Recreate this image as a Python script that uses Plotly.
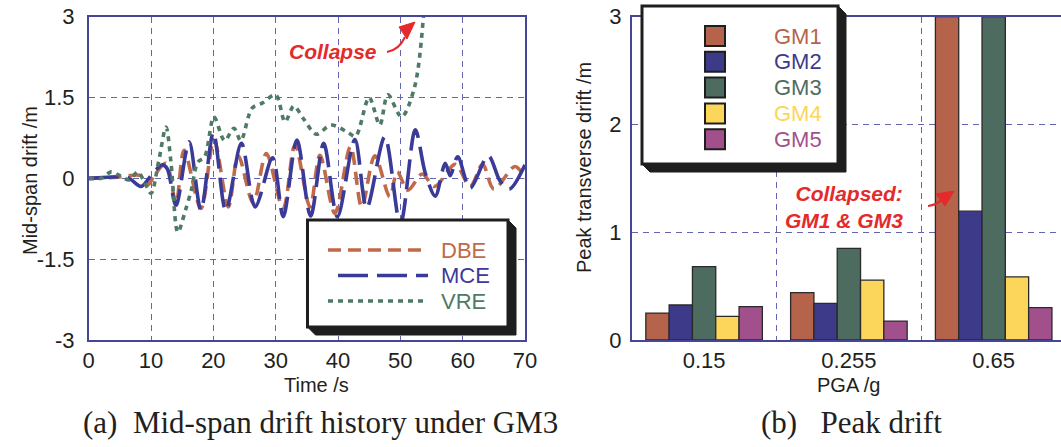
import plotly.graph_objects as go

W, H = 1061, 447

# ---- (a) mid-span drift history under GM3 (time in s, drift in m) ----
dbe_t = [0, 4.5, 8.4, 9.5, 10.5, 12.4, 14.0, 15.3, 18.0, 20.1, 22.4, 24.0, 26.4, 28.5,
         31.2, 33.1, 35.5, 37.1, 39.5, 42.0, 43.8, 45.9, 48.3, 49.5, 51.2, 53.5, 55.5,
         58.8, 61.2, 63.2, 65.0, 68.4, 70.0]
dbe_v = [0, 0.02, 0.05, -0.12, 0.05, 0.28, -0.46, 0.52, -0.56, 0.71, -0.53, 0.42, -0.46, 0.46,
         -0.56, 0.62, -0.53, 0.43, -0.65, 0.59, -0.53, 0.42, -0.34, 0.12, -0.22, 0.08, -0.15,
         0.26, -0.15, 0.26, -0.2, 0.22, 0.0]

mce_t = [0, 3, 5, 6.5, 8.4, 10, 11.8, 12.6, 14.0, 16.1, 18.0, 20.0, 22.0, 24.5, 26.7,
         29.5, 31.2, 33.4, 35.6, 37.7, 39.9, 42.7, 44.6, 47.5, 50.0, 52.4, 54.0, 55.6,
         57.2, 58.0, 59.2, 61.2, 64.1, 66.0, 67.5, 70.0]
mce_v = [0, 0.02, 0.03, 0.0, -0.15, 0.05, 0.25, 0.18, -0.5, 0.68, -0.59, 0.85, -0.6, 0.65, -0.53,
         0.38, -0.71, 0.71, -0.7, 0.65, -0.71, 0.72, -0.55, 0.77, -0.85, 0.9, 0.1, -0.33,
         0.28, 0.05, 0.4, -0.18, 0.42, -0.05, -0.2, 0.25]

vre_t = [0, 2, 3.6, 5, 6.5, 7.9, 8.9, 10, 11.2, 12.4, 13.2, 14.3, 15.5, 16.5, 17.5, 18.6,
         20.1, 21.8, 23.3, 24.4, 26.2, 27.9, 30.0, 31.5, 32.9, 34.5, 36.5, 38.9, 41.5,
         42.8, 45.0, 46.7, 48.0, 50.2, 52.3, 53.7]
vre_v = [0, 0.0, 0.12, 0.05, -0.03, 0.12, -0.06, -0.28, 0.3, 0.95, 0.3, -1.0, -0.6, -0.2, 0.3, 0.4,
         1.14, 0.7, 0.93, 0.7, 1.3, 1.4, 1.55, 1.05, 1.34, 1.1, 0.82, 0.99, 0.86,
         0.78, 1.5, 0.99, 1.55, 1.14, 1.7, 3.0]

time_ticks = [0, 10, 20, 30, 40, 50, 60, 70]
drift_ticks = [-3, -1.5, 0, 1.5, 3]
drift_labels = ["-3", "-1.5", "0", "1.5", "3"]

# ---- (b) peak transverse drift per ground motion ----
pga_labels = ["0.15", "0.255", "0.65"]
gm_names = ["GM1", "GM2", "GM3", "GM4", "GM5"]
gm1 = [0.25, 0.44, 3.0]
gm2 = [0.325, 0.34, 1.195]
gm3 = [0.68, 0.85, 3.0]
gm4 = [0.22, 0.555, 0.585]
gm5 = [0.31, 0.175, 0.30]
peak_ticks = [0, 1, 2, 3]

# ---- styling ----
FONT = "Liberation Sans, Arial, sans-serif"
SERIF = "Liberation Serif, Times New Roman, serif"
INK = "#231F20"
FRAME = "#45459A"
GRID = "#6464B0"
RED = "#E42A2A"
series_style = {
    "DBE": dict(color="#C06A4A", dash="13px,7px"),
    "MCE": dict(color="#3A3A98", dash="30px,9px"),
    "VRE": dict(color="#4E7A66", dash="5px,5px"),
}
gm_colors = ["#B5634B", "#3D3A8A", "#4E6B5F", "#FCD65A", "#A2508C"]


def fx(x):
    return x / W


def fy(y):
    return 1 - y / H


fig = go.Figure()

for name, t, v in (("DBE", dbe_t, dbe_v), ("MCE", mce_t, mce_v), ("VRE", vre_t, vre_v)):
    st = series_style[name]
    fig.add_trace(go.Scatter(
        x=t, y=v, mode="lines", name=name, xaxis="x", yaxis="y",
        line=dict(color=st["color"], width=3.6, dash=st["dash"], shape="spline", smoothing=0.9),
        showlegend=False,
    ))

pga_pos = list(range(len(pga_labels)))
for name, vals, col in zip(gm_names, (gm1, gm2, gm3, gm4, gm5), gm_colors):
    fig.add_trace(go.Bar(
        x=pga_pos, y=vals, name=name, xaxis="x2", yaxis="y2",
        marker=dict(color=col, line=dict(color="#2A2A2A", width=1.3)),
        showlegend=False,
    ))

ydom = [fy(340), fy(16.7)]
axis_common = dict(
    showline=True, linecolor=FRAME, linewidth=1.5, zeroline=False, ticks="",
    tickfont=dict(family=FONT, size=22, color=INK),
    gridcolor=GRID, gridwidth=1, griddash="6px,5px",
)

fig.update_layout(
    width=W, height=H,
    margin=dict(l=0, r=0, t=0, b=0, autoexpand=False),
    paper_bgcolor="white", plot_bgcolor="white",
    barmode="group", bargap=0.195, bargroupgap=0,
    xaxis=dict(domain=[fx(88.7), fx(525)], range=[0, 70], tickmode="array",
               tickvals=time_ticks, showgrid=True, mirror=True, anchor="y",
               **axis_common),
    yaxis=dict(domain=ydom, range=[-3, 3], tickmode="array", tickvals=drift_ticks,
               ticktext=drift_labels, showgrid=True, mirror=True, anchor="x",
               ticklabelstandoff=8, **axis_common),
    xaxis2=dict(domain=[fx(631.7), 1], range=[-0.5, 2.465], tickmode="array",
                tickvals=pga_pos, ticktext=pga_labels, showgrid=False, mirror=True,
                anchor="y2",
                minor=dict(tickvals=[0.5, 1.5], showgrid=True, gridcolor=GRID,
                           gridwidth=1, griddash="6px,5px", ticks=""),
                **{k: v for k, v in axis_common.items() if k not in ("gridcolor", "gridwidth", "griddash")}),
    yaxis2=dict(domain=ydom, range=[0, 3], tickmode="array", tickvals=peak_ticks,
                showgrid=True, mirror=False, anchor="x2", ticklabelstandoff=4,
                **axis_common),
)

shapes = []
annotations = []


def pts_path(points, close=True):
    s = "M" + " L".join("{},{}".format(fx(x), fy(y)) for x, y in points)
    return s + (" Z" if close else "")


def legend_box(x0, y0, x1, y1, off=8):
    # bevelled drop shadow behind a framed white panel
    shadow = [(x1, y0), (x1 + off, y0 + off), (x1 + off, y1 + off), (x0 + off, y1 + off), (x0, y1)]
    shapes.append(dict(type="path", xref="paper", yref="paper", path=pts_path(shadow),
                       fillcolor="#1E1E1E", line=dict(color="#1E1E1E", width=1), layer="above"))
    shapes.append(dict(type="rect", xref="paper", yref="paper",
                       x0=fx(x0), x1=fx(x1), y0=fy(y0), y1=fy(y1),
                       fillcolor="white", line=dict(color="#1E1E1E", width=3), layer="above"))


# legend for (a)
legend_box(307.5, 220, 508, 327)
for i, name in enumerate(("DBE", "MCE", "VRE")):
    st = series_style[name]
    yy = 250 + i * 25.5
    x_start = 338 if name == "MCE" else 328
    shapes.append(dict(type="line", xref="paper", yref="paper",
                       x0=fx(x_start), x1=fx(428), y0=fy(yy), y1=fy(yy),
                       line=dict(color=st["color"], width=3.6, dash=st["dash"]), layer="above"))
    annotations.append(dict(x=fx(439), y=fy(yy), xref="paper", yref="paper", text=name,
                            showarrow=False, xanchor="left", yanchor="middle",
                            font=dict(family=FONT, size=22, color=st["color"])))

# legend for (b)
legend_box(642, 6, 838, 164)
for i, (name, col) in enumerate(zip(gm_names, gm_colors)):
    yy = 36 + i * 25.8
    shapes.append(dict(type="rect", xref="paper", yref="paper",
                       x0=fx(705), x1=fx(725), y0=fy(yy - 10), y1=fy(yy + 10),
                       fillcolor=col, line=dict(color="#1E1E1E", width=2), layer="above"))
    annotations.append(dict(x=fx(772), y=fy(yy), xref="paper", yref="paper", text=name,
                            showarrow=False, xanchor="left", yanchor="middle",
                            font=dict(family=FONT, size=22, color=col)))

# collapse call-outs with curved arrows
for text, tx, ty, anchor, curve, head in (
    ("<b><i>Collapse</i></b>", 333, 52, "center",
     [(387, 52), (399, 50), (405, 37)], [(415, 22), (399, 27), (407, 39)]),
    ("<b><i>Collapsed:</i></b><br><b><i>GM1 & GM3</i></b>", 905, 207, "right",
     [(928, 206), (937, 205), (942, 199)], [(954, 191), (936, 194), (945, 206)]),
):
    annotations.append(dict(x=fx(tx), y=fy(ty), xref="paper", yref="paper", text=text,
                            showarrow=False, xanchor=anchor, yanchor="middle", align="right",
                            font=dict(family=FONT, size=21, color=RED)))
    (a0, a1), (c0, c1), (b0, b1) = curve
    path = "M{},{} Q{},{} {},{}".format(fx(a0), fy(a1), fx(c0), fy(c1), fx(b0), fy(b1))
    shapes.append(dict(type="path", xref="paper", yref="paper", path=path,
                       line=dict(color=RED, width=2), layer="above"))
    shapes.append(dict(type="path", xref="paper", yref="paper", path=pts_path(head),
                       fillcolor=RED, line=dict(color=RED, width=1), layer="above"))

# axis titles
annotations += [
    dict(x=fx(30), y=fy(181), text="Mid-span drift /m", textangle=-90),
    dict(x=fx(584), y=fy(168), text="Peak transverse drift /m", textangle=-90),
    dict(x=fx(316), y=fy(385), text="Time /s"),
    dict(x=fx(848), y=fy(385), text="PGA /g"),
]
for a in annotations[-4:]:
    a.update(xref="paper", yref="paper", showarrow=False, xanchor="center", yanchor="middle",
             font=dict(family=FONT, size=20, color=INK))

# panel captions
annotations += [
    dict(x=fx(320), y=fy(422), text="(a)  Mid-span drift history under GM3"),
    dict(x=fx(851), y=fy(422), text="(b)&nbsp;&nbsp;&nbsp;Peak drift"),
]
for a in annotations[-2:]:
    a.update(xref="paper", yref="paper", showarrow=False, xanchor="center", yanchor="middle",
             font=dict(family=SERIF, size=31, color=INK))

fig.update_layout(shapes=shapes, annotations=annotations)
fig.write_html("out.html")
